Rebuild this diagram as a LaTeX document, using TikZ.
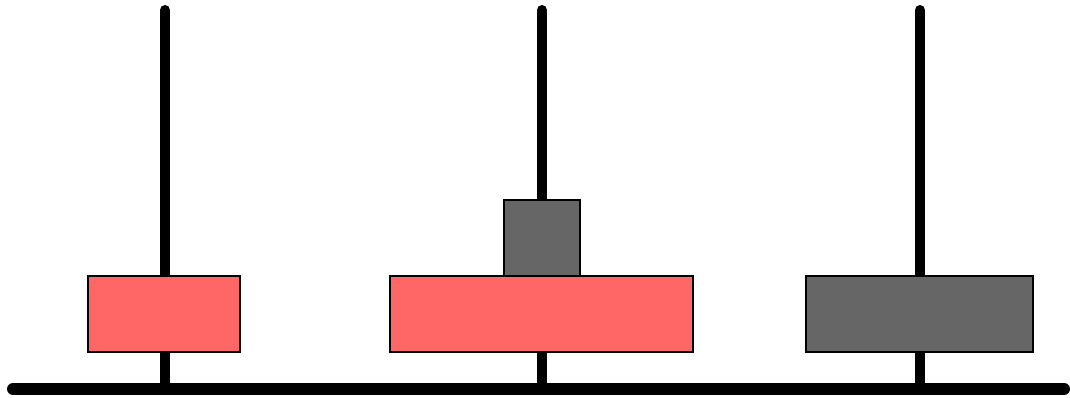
\documentclass[tikz,border=0pt]{standalone}
\definecolor{diskred}{HTML}{FF6666}
\definecolor{diskgray}{HTML}{666666}
\begin{document}
\begin{tikzpicture}[x=1pt,y=-1pt,
  pole/.style={line width=10pt,line cap=round},
  base/.style={line width=12pt,line cap=round},
  disk/.style={draw=black,line width=2.5pt}]
\useasboundingbox (0,0) rectangle (1070,398);
\coordinate (bl) at (13,389);
\coordinate (br) at (1064,389);
\foreach \n/\x in {a/165,b/542,c/920}{
  \coordinate (\n top) at (\x,10);
  \coordinate (\n bot) at (\x,389);
  \draw[pole] (\n top) -- (\n bot);
}
\draw[base] (bl) -- (br);
\draw[disk,fill=diskred] (88,276) rectangle (240,352);
\draw[disk,fill=diskred] (390,276) rectangle (693,352);
\draw[disk,fill=diskgray] (504,200) rectangle (580,276);
\draw[disk,fill=diskgray] (806,276) rectangle (1033,352);
\end{tikzpicture}
\end{document}
